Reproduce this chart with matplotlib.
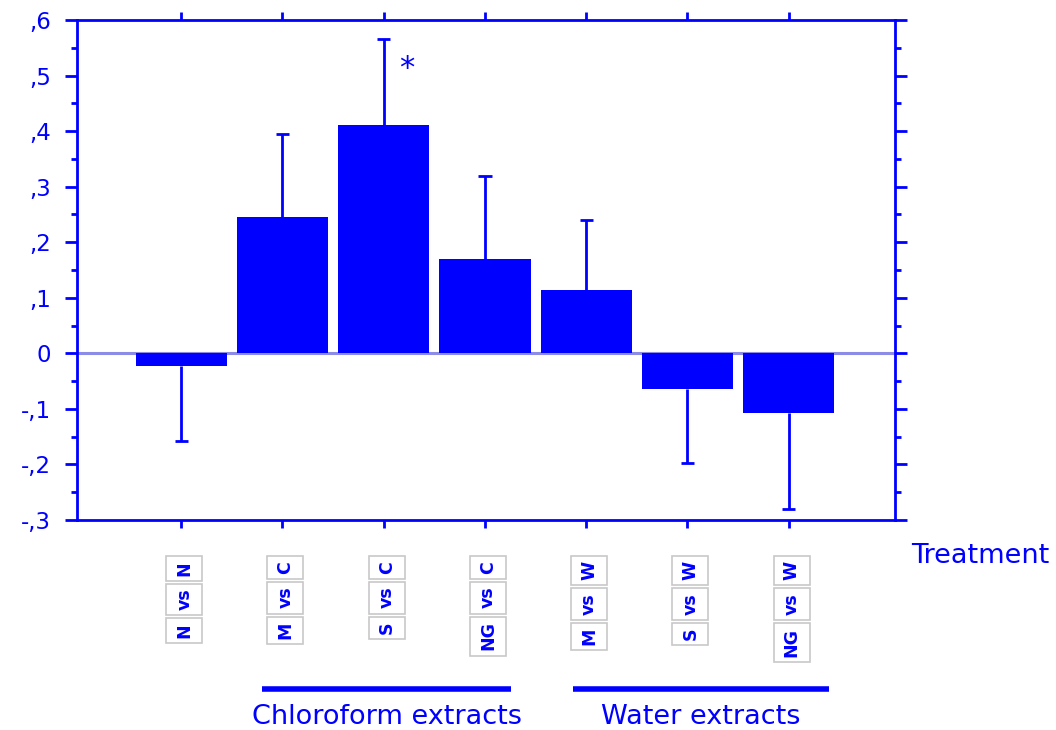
import matplotlib
matplotlib.use("Agg")
import matplotlib.pyplot as plt
import matplotlib.ticker as mticker
import matplotlib.transforms as mtransforms
from matplotlib.patches import Rectangle

BLUE = "#0000ff"
ZERO = "#8c8ce6"
BOX_EDGE = "#c8c8c8"

# ── Data ───────────────────────────────────────────────────────────────────────
labels = ["N vs N", "M vs C", "S vs C", "NG vs C", "M vs W", "S vs W", "NG vs W"]
means = [-0.022, 0.245, 0.411, 0.170, 0.114, -0.064, -0.107]
errors = [0.135, 0.150, 0.155, 0.149, 0.126, 0.133, 0.173]
yticks = [-0.3, -0.2, -0.1, 0.0, 0.1, 0.2, 0.3, 0.4, 0.5, 0.6]
ytick_labels = ["-,3", "-,2", "-,1", "0", ",1", ",2", ",3", ",4", ",5", ",6"]
groups = [("Chloroform extracts", 0.80, 3.26), ("Water extracts", 3.87, 6.40)]

fig = plt.figure(figsize=(10.56, 7.30), dpi=100)
fig.patch.set_facecolor("white")
ax = fig.add_axes([0.0729, 0.2877, 0.7746, 0.6849])

x = list(range(len(means)))
ax.bar(x, means, width=0.9, color=BLUE, zorder=3)

# one-sided error bars, pointing away from zero, cap only at the far end
ends = [m + e if m >= 0 else m - e for m, e in zip(means, errors)]
ax.vlines(x, means, ends, color=BLUE, lw=2.0, zorder=2)
ax.hlines(ends, [xi - 0.065 for xi in x], [xi + 0.065 for xi in x],
          color=BLUE, lw=2.0, zorder=2)

ax.axhline(0, color=ZERO, lw=2.2, zorder=1)
ax.text(2.23, 0.513, "*", color=BLUE, fontsize=22, ha="center", va="center")

ax.set_xlim(-1.03, 7.05)
ax.set_ylim(-0.3, 0.6)

for s in ax.spines.values():
    s.set_color(BLUE)
    s.set_linewidth(2.0)

ax.set_yticks(yticks)
ax.set_yticklabels(ytick_labels)
ax.yaxis.set_minor_locator(mticker.MultipleLocator(0.05))
ax.tick_params(axis="y", which="both", direction="out", color=BLUE, width=2.0,
               left=True, right=True, labelcolor=BLUE, labelsize=16.5, pad=10)
ax.tick_params(axis="y", which="major", length=8.5)
ax.tick_params(axis="y", which="minor", length=4.5)
ax.set_xticks(x)
ax.set_xticklabels([])
ax.tick_params(axis="x", which="both", direction="out", color=BLUE, width=2.0,
               length=5.5, top=True, bottom=True)

# rotated, boxed category labels: one box per word, stacked bottom-to-top
fig.canvas.draw()
r = fig.canvas.get_renderer()
H = fig.bbox.height
to_fig = fig.transFigure.inverted()
for xi, lab in zip(x, labels):
    xc = ax.transData.transform((xi, 0))[0] + 3
    top = 556.0
    for word in reversed(lab.split()):
        t = fig.text(0, 0, word, rotation=90, fontsize=12.5, color=BLUE,
                     fontweight="bold", ha="center", va="center")
        ext = t.get_window_extent(r)
        bh = ext.height + 10
        cy = top + bh / 2
        t.set_position(to_fig.transform((xc, H - cy)))
        x0, y0 = to_fig.transform((xc - 18, H - top - bh))
        x1, y1 = to_fig.transform((xc + 18, H - top))
        fig.patches.append(Rectangle((x0, y0), x1 - x0, y1 - y0, transform=fig.transFigure,
                                     facecolor="white", edgecolor=BOX_EDGE, lw=1.2, zorder=0))
        top += bh + 3

fig.text(980 / 1056, 1 - 556 / 730, "Treatment", color=BLUE, fontsize=19.5,
         ha="center", va="center")

blend = mtransforms.blended_transform_factory(ax.transData, fig.transFigure)
for name, x0, x1 in groups:
    ax.plot([x0, x1], [1 - 689 / 730] * 2, color=BLUE, lw=4, transform=blend,
            clip_on=False, solid_capstyle="butt")
    ax.text((x0 + x1) / 2, 1 - 717 / 730, name, color=BLUE, fontsize=19.5,
            ha="center", va="center", transform=blend)

fig.savefig("out.png", dpi=100)
